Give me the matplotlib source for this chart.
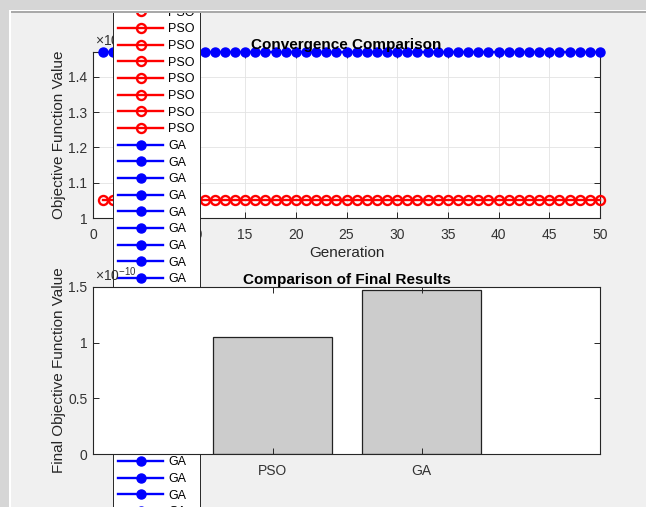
import matplotlib
matplotlib.use('Agg')
import matplotlib.pyplot as plt
from matplotlib.patches import Rectangle
from matplotlib.ticker import FuncFormatter, MultipleLocator

plt.rcParams['font.family'] = ['Liberation Sans', 'DejaVu Sans']
plt.rcParams['mathtext.fontset'] = 'custom'
plt.rcParams['mathtext.rm'] = 'Liberation Sans'
plt.rcParams['mathtext.it'] = 'Liberation Sans:italic'
plt.rcParams['mathtext.bf'] = 'Liberation Sans:bold'

# ---------------- data ----------------
generations = list(range(1, 51))
pso_curve = [1.05e-10, 1.05e-10, 1.05e-10, 1.05e-10, 1.05e-10, 1.05e-10, 1.05e-10, 1.05e-10, 1.05e-10, 1.05e-10,
             1.05e-10, 1.05e-10, 1.05e-10, 1.05e-10, 1.05e-10, 1.05e-10, 1.05e-10, 1.05e-10, 1.05e-10, 1.05e-10,
             1.05e-10, 1.05e-10, 1.05e-10, 1.05e-10, 1.05e-10, 1.05e-10, 1.05e-10, 1.05e-10, 1.05e-10, 1.05e-10,
             1.05e-10, 1.05e-10, 1.05e-10, 1.05e-10, 1.05e-10, 1.05e-10, 1.05e-10, 1.05e-10, 1.05e-10, 1.05e-10,
             1.05e-10, 1.05e-10, 1.05e-10, 1.05e-10, 1.05e-10, 1.05e-10, 1.05e-10, 1.05e-10, 1.05e-10, 1.05e-10]
ga_curve = [1.47e-10, 1.47e-10, 1.47e-10, 1.47e-10, 1.47e-10, 1.47e-10, 1.47e-10, 1.47e-10, 1.47e-10, 1.47e-10,
            1.47e-10, 1.47e-10, 1.47e-10, 1.47e-10, 1.47e-10, 1.47e-10, 1.47e-10, 1.47e-10, 1.47e-10, 1.47e-10,
            1.47e-10, 1.47e-10, 1.47e-10, 1.47e-10, 1.47e-10, 1.47e-10, 1.47e-10, 1.47e-10, 1.47e-10, 1.47e-10,
            1.47e-10, 1.47e-10, 1.47e-10, 1.47e-10, 1.47e-10, 1.47e-10, 1.47e-10, 1.47e-10, 1.47e-10, 1.47e-10,
            1.47e-10, 1.47e-10, 1.47e-10, 1.47e-10, 1.47e-10, 1.47e-10, 1.47e-10, 1.47e-10, 1.47e-10, 1.47e-10]
algorithms = ['PSO', 'GA']
final_values = [1.05e-10, 1.47e-10]
n_legend_pso = 50
n_legend_ga = 50

W, H = 646, 507
AX_COLOR = '#262626'

fig = plt.figure(figsize=(W / 100, H / 100), dpi=100, facecolor='#d6d6d6')

def px_rect(x0, y0, x1, y1, color, z=-10):
    fig.patches.append(Rectangle((x0 / W, 1 - y1 / H), (x1 - x0) / W, (y1 - y0) / H,
                                 transform=fig.transFigure, facecolor=color,
                                 edgecolor='none', zorder=z))

# panel background
px_rect(11, 12.5, W, H, '#f0f0f0')
# outer screenshot frame drawn on top (clips the oversized legend)
px_rect(0, 0, W, 10, '#d6d6d6', z=100)
px_rect(0, 0, 9, H, '#d6d6d6', z=100)
px_rect(9, 10, W, 11, '#ffffff', z=100)
px_rect(9, 10, 10.5, H, '#ffffff', z=100)
px_rect(10.5, 11, W, 12.5, '#a9a9a9', z=100)

def sci_fmt(v, p):
    return '%g' % round(v / 1e-10, 6)

def style_axes(ax):
    for s in ax.spines.values():
        s.set_color(AX_COLOR)
        s.set_linewidth(0.8)
    ax.tick_params(direction='in', top=True, right=True, length=4, width=0.7,
                   colors=AX_COLOR, labelsize=10, labelcolor='#333333')
    ax.tick_params(axis='x', pad=7)
    ax.tick_params(axis='y', pad=4)
    ax.yaxis.set_major_formatter(FuncFormatter(sci_fmt))
    ax.annotate(r'$\times10^{-10}$', xy=(0, 1), xycoords='axes fraction',
                xytext=(1.5, 2), textcoords='offset points', ha='left', va='bottom',
                fontsize=10, color='#333333', zorder=1)

# ---------------- top: convergence ----------------
ax1 = fig.add_axes([93 / W, 1 - 218 / H, 507 / W, 166 / H])
ax1.set_facecolor('white')
h_pso, = ax1.plot(generations, pso_curve, '-o', color='red', mfc='none', ms=6.5,
                  mew=1.7, lw=1.7, clip_on=False, zorder=3)
h_ga, = ax1.plot(generations, ga_curve, '-o', color='blue', mfc='blue', mec='blue',
                 ms=6.5, lw=1.7, clip_on=False, zorder=3)
ax1.set_xlim(0, 50)
ax1.set_ylim(1.0e-10, 1.47e-10)
ax1.xaxis.set_major_locator(MultipleLocator(5))
ax1.yaxis.set_major_locator(MultipleLocator(0.1e-10))
style_axes(ax1)
ax1.grid(True, color='#e3e3e3', lw=0.6)
ax1.set_axisbelow(True)
ax1.set_title('Convergence Comparison', fontsize=11, fontweight='bold', pad=2)
ax1.set_xlabel('Generation', fontsize=11, color=AX_COLOR, labelpad=3)
ax1.set_ylabel('Objective Function Value', fontsize=11, color=AX_COLOR, labelpad=1.5)

handles = [h_pso] * n_legend_pso + [h_ga] * n_legend_ga
labels = [algorithms[0]] * n_legend_pso + [algorithms[1]] * n_legend_ga
leg = ax1.legend(handles, labels, loc='center left',
                 bbox_to_anchor=(113 / W, 1 - 137.7 / H), bbox_transform=fig.transFigure,
                 frameon=True, fancybox=False, framealpha=1, edgecolor=AX_COLOR,
                 fontsize=9, handlelength=3.6, handletextpad=0.4, borderpad=0.4,
                 labelspacing=0.372, borderaxespad=0)
leg.get_frame().set_linewidth(0.7)
leg.set_zorder(10)

# ---------------- bottom: final results ----------------
ax2 = fig.add_axes([93 / W, 1 - 454 / H, 507 / W, 167 / H])
ax2.set_facecolor('white')
ax2.bar([1, 2], final_values, width=0.8, color='#cccccc', edgecolor='#222222', linewidth=0.9)
ax2.set_xlim(-0.205, 3.198)
ax2.set_ylim(0, 1.5e-10)
ax2.set_xticks([1, 2])
ax2.set_xticklabels(algorithms)
ax2.yaxis.set_major_locator(MultipleLocator(0.5e-10))
style_axes(ax2)
ax2.set_title('Comparison of Final Results', fontsize=11, fontweight='bold', pad=2)
ax2.set_ylabel('Final Objective Function Value', fontsize=11, color=AX_COLOR, labelpad=1.5)

fig.savefig('out.png', dpi=100, facecolor=fig.get_facecolor())
